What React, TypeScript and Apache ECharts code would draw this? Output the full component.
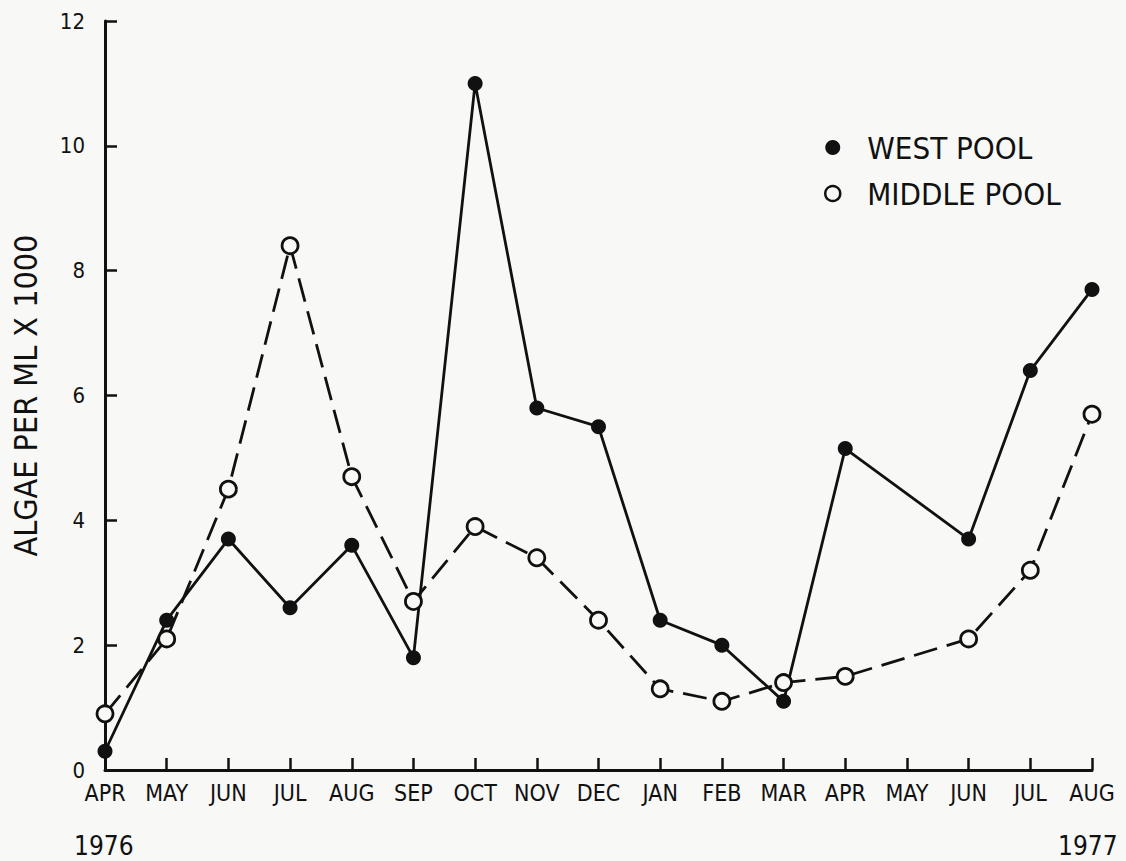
import React, { useEffect, useRef } from "react";
import * as echarts from "echarts";

const months = ["APR", "MAY", "JUN", "JUL", "AUG", "SEP", "OCT", "NOV", "DEC", "JAN", "FEB", "MAR", "APR", "MAY", "JUN", "JUL", "AUG"];
const westPool = [0.3, 2.4, 3.7, 2.6, 3.6, 1.8, 11.0, 5.8, 5.5, 2.4, 2.0, 1.1, 5.15, null, 3.7, 6.4, 7.7];
const middlePool = [0.9, 2.1, 4.5, 8.4, 4.7, 2.7, 3.9, 3.4, 2.4, 1.3, 1.1, 1.4, 1.5, null, 2.1, 3.2, 5.7];
const yTicks = [0, 2, 4, 6, 8, 10, 12];
const yearStart = "1976";
const yearEnd = "1977";

const FONT = "'DejaVu Sans Condensed', 'DejaVu Sans', sans-serif";
const INK = "#111";
const BG = "#f8f8f6";

export default function App() {
  const ref = useRef<HTMLDivElement>(null);
  useEffect(() => {
    if (!ref.current) return;
    const chart = echarts.init(ref.current, null, { renderer: "svg" });
    chart.setOption({
      animation: false,
      backgroundColor: BG,
      grid: { left: 105, right: 34, top: 21, bottom: 91 },
      legend: {
        orient: "vertical",
        left: 819,
        top: 127,
        itemGap: 15,
        itemWidth: 15,
        itemHeight: 15,
        textStyle: { fontFamily: FONT, fontSize: 31, color: INK, padding: [0, 0, 0, 22] },
        data: [
          { name: "WEST POOL", icon: "circle", itemStyle: { color: INK, borderWidth: 0 } },
          { name: "MIDDLE POOL", icon: "circle", itemStyle: { color: BG, borderColor: INK, borderWidth: 2.5 } },
        ],
      },
      xAxis: {
        type: "category",
        data: months,
        boundaryGap: false,
        axisLine: { lineStyle: { color: INK, width: 3 } },
        axisTick: { inside: true, length: 12, lineStyle: { color: INK, width: 2.5 } },
        axisLabel: { fontFamily: FONT, fontSize: 23, color: INK, margin: 11, interval: 0 },
        splitLine: { show: false },
      },
      yAxis: {
        type: "value",
        min: 0,
        max: 12,
        interval: 2,
        name: "ALGAE PER ML X 1000",
        nameLocation: "middle",
        nameGap: 63,
        nameTextStyle: { fontFamily: FONT, fontSize: 32, color: INK },
        axisLine: { show: true, lineStyle: { color: INK, width: 3 } },
        axisTick: { show: true, inside: true, length: 12, lineStyle: { color: INK, width: 2.5 } },
        axisLabel: {
          fontFamily: FONT,
          fontSize: 22,
          color: INK,
          margin: 20,
          formatter: (v: number) => (yTicks.includes(v) ? String(v) : ""),
        },
        splitLine: { show: false },
      },
      graphic: [
        { type: "text", left: 74, top: 833, style: { text: yearStart, fontFamily: FONT, fontSize: 26, fill: INK } },
        { type: "text", left: 1058, top: 833, style: { text: yearEnd, fontFamily: FONT, fontSize: 26, fill: INK } },
      ],
      series: [
        {
          name: "MIDDLE POOL",
          type: "line",
          data: middlePool,
          connectNulls: true,
          symbol: "circle",
          symbolSize: 16,
          lineStyle: { color: INK, width: 2.8, type: [24, 10] },
          itemStyle: { color: BG, borderColor: INK, borderWidth: 2.8 },
          z: 3,
        },
        {
          name: "WEST POOL",
          type: "line",
          data: westPool,
          connectNulls: true,
          symbol: "circle",
          symbolSize: 15,
          lineStyle: { color: INK, width: 2.8 },
          itemStyle: { color: INK, borderWidth: 0 },
          z: 2,
        },
      ],
    });
    return () => chart.dispose();
  }, []);
  return <div ref={ref} style={{ width: 1126, height: 861, position: "absolute", left: 0, top: 0 }} />;
}
